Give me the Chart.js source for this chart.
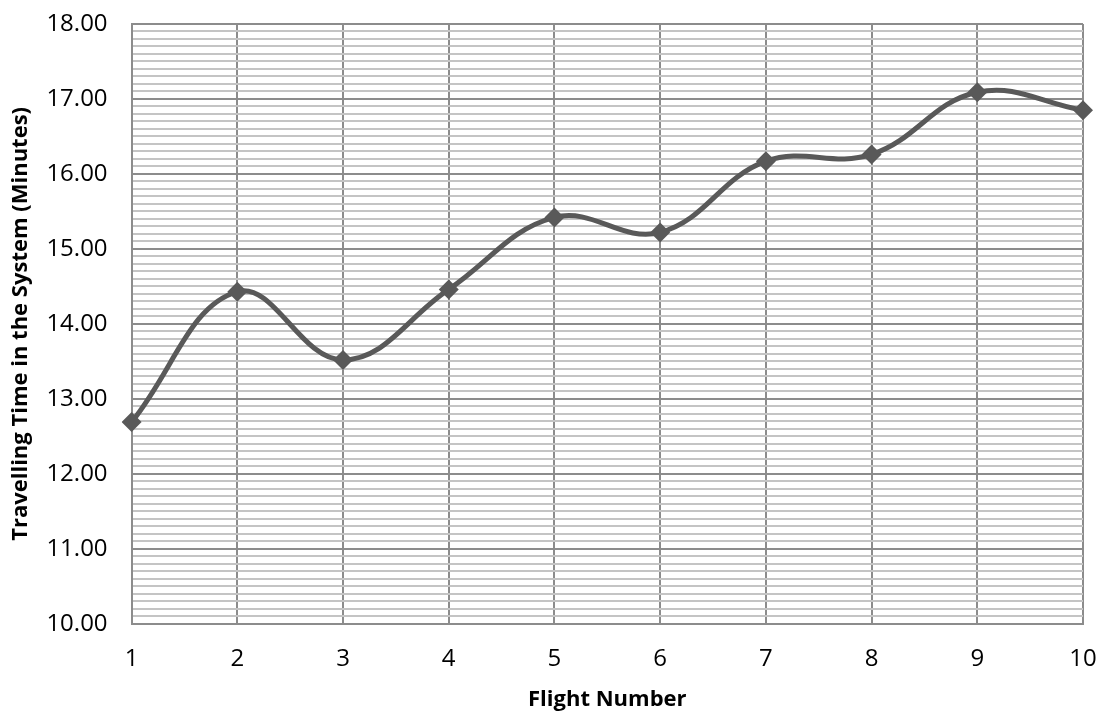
<!DOCTYPE html>
<html>
<head>
<meta charset="utf-8">
<script src="https://cdn.jsdelivr.net/npm/chart.js@4/dist/chart.umd.min.js"></script>
<style>
    html, body { margin: 0; padding: 0; background: #ffffff; }
    #wrap { width: 1102px; height: 711px; }
</style>
</head>
<body>
<div id="wrap"><canvas id="lineChart" width="1102" height="711"></canvas></div>
<script>
const flights = ['1', '2', '3', '4', '5', '6', '7', '8', '9', '10'];
const travelTimes = [12.69, 14.43, 13.52, 14.46, 15.42, 15.22, 16.17, 16.26, 17.09, 16.85];
const yMin = 10;
const yMax = 18;
const yMinorStep = 0.1;

const FONT = "'Open Sans', 'Liberation Sans', sans-serif";

function isWhole(v) {
    return Math.abs(v - Math.round(v)) < 1e-6;
}

// gap between axis and labels made with invisible tick marks,
// so it doesn't get added to the label overhang at the ends
const ctx = document.getElementById('lineChart').getContext('2d');
new Chart(ctx, {
    type: 'line',
    data: {
        labels: flights,
        datasets: [{
            data: travelTimes,
            borderColor: '#595959',
            backgroundColor: '#595959',
            borderWidth: 5,
            tension: 0.4,
            pointStyle: 'rectRot',
            pointRadius: 10,
            pointBorderWidth: 0,
            pointBackgroundColor: '#595959',
            fill: false
        }]
    },
    options: {
        responsive: false,
        animation: false,
        devicePixelRatio: 1,
        layout: { padding: { top: 24, right: 19, left: 8, bottom: -2 } },
        plugins: {
            legend: { display: false },
            tooltip: { enabled: false }
        },
        scales: {
            x: {
                offset: false,
                grid: {
                    color: '#8c8c8c',
                    lineWidth: 2,
                    drawTicks: true,
                    tickLength: 21,
                    tickColor: 'rgba(0,0,0,0)'
                },
                border: { color: '#8c8c8c', width: 2 },
                ticks: {
                    color: '#000000',
                    font: { family: FONT, size: 24 },
                    padding: 0,
                    maxRotation: 0
                },
                title: {
                    display: true,
                    text: 'Flight Number',
                    color: '#000000',
                    font: { family: FONT, size: 22, weight: 'bold' },
                    padding: { top: 13, bottom: 0 }
                }
            },
            y: {
                min: yMin,
                max: yMax,
                grid: {
                    color: c => isWhole(c.tick.value) ? '#8c8c8c' : '#c4c4c4',
                    lineWidth: 2,
                    drawTicks: true,
                    tickLength: 24,
                    tickColor: 'rgba(0,0,0,0)'
                },
                border: { color: '#8c8c8c', width: 2 },
                ticks: {
                    stepSize: yMinorStep,
                    autoSkip: false,
                    color: '#000000',
                    font: { family: FONT, size: 24 },
                    padding: 0,
                    callback: v => isWhole(v) ? Number(v).toFixed(2) : ''
                },
                title: {
                    display: true,
                    text: 'Travelling Time in the System (Minutes)',
                    color: '#000000',
                    font: { family: FONT, size: 22, weight: 'bold' },
                    padding: { top: 0, bottom: 12 }
                }
            }
        }
    }
});
</script>
</body>
</html>
